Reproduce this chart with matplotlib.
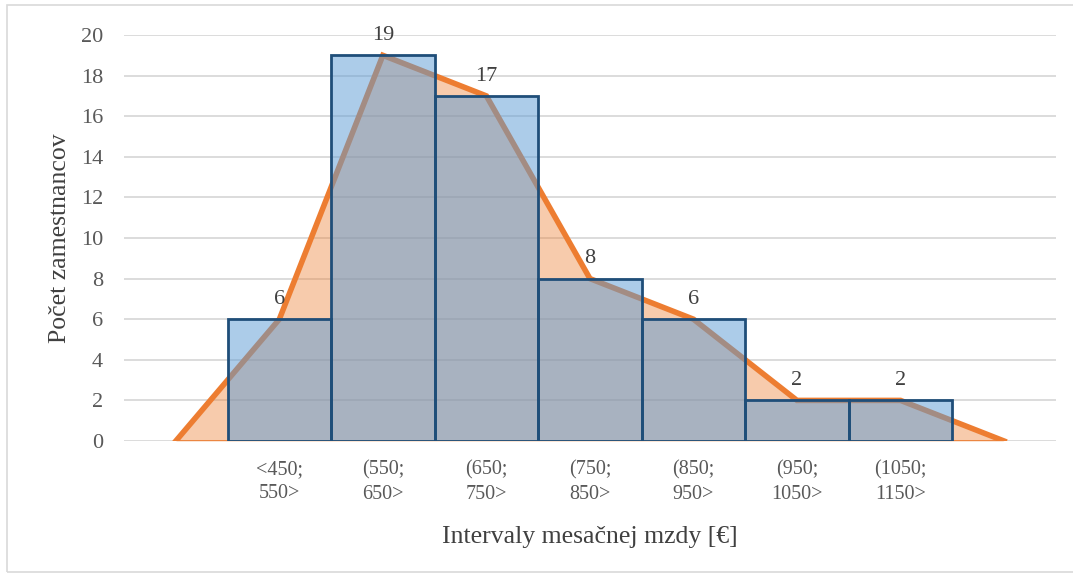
import matplotlib.pyplot as plt
from matplotlib.patches import Rectangle

# data
intervaly = ["<450;\n550>", "(550;\n650>", "(650;\n750>", "(750;\n850>",
             "(850;\n950>", "(950;\n1050>", "(1050;\n1150>"]
pocet = [6, 19, 17, 8, 6, 2, 2]
# frekvencny polygon - nula na oboch koncoch
polygon = [0] + pocet + [0]

plt.rcParams['font.family'] = ['Liberation Serif', 'DejaVu Serif']

fig = plt.figure(figsize=(10.73, 5.77), dpi=100)
ax = fig.add_axes([0.1156, 0.2357, 0.8684, 0.7036])

x_poly = list(range(len(polygon)))
x_bar = list(range(1, len(pocet) + 1))

ax.fill_between(x_poly, polygon, 0, color='#ED7D31', alpha=0.4, lw=0, zorder=2)
ax.plot(x_poly, polygon, color='#ED7D31', lw=4, solid_joinstyle='miter', zorder=3)
ax.plot([0, len(polygon) - 1], [0, 0], color='#ED7D31', lw=1.2, zorder=3)
ax.bar(x_bar, pocet, width=1.0, color='#5B9BD5', alpha=0.5, edgecolor='none', zorder=4)
ax.bar(x_bar, pocet, width=1.0, color='none', edgecolor='#1F4E79', lw=2, zorder=5)

# popisky hodnot
for xi, v in zip(x_bar, pocet):
    ax.text(xi, v + 0.5, str(v), ha='center', va='bottom', fontsize=16, color='#404040', zorder=6)

ax.set_xlim(-0.5, len(polygon) - 0.5)
ax.set_ylim(0, 20)
ax.set_yticks(range(0, 21, 2))
ax.set_xticks(x_bar)
ax.set_xticklabels(intervaly, fontsize=14.5, color='#595959', linespacing=1.35)
ax.tick_params(axis='y', labelsize=16, labelcolor='#595959', length=0, pad=15)
ax.tick_params(axis='x', length=0, pad=14)

ax.grid(axis='y', color='#D9D9D9', lw=1.3, zorder=0)
ax.set_axisbelow(True)
for s in ax.spines.values():
    s.set_visible(False)

ax.set_ylabel("Počet zamestnancov", fontsize=18.5, color='#404040', labelpad=7)
ax.set_xlabel("Intervaly mesačnej mzdy [€]", fontsize=18.5, color='#404040', labelpad=16)

# ram okolo grafu
fig.patches.append(Rectangle((7 / 1073, 5 / 577), 1.0, 1 - 10 / 577, transform=fig.transFigure,
                             fill=False, edgecolor='#D9D9D9', lw=1.2))

fig.savefig("out.png", dpi=100)
